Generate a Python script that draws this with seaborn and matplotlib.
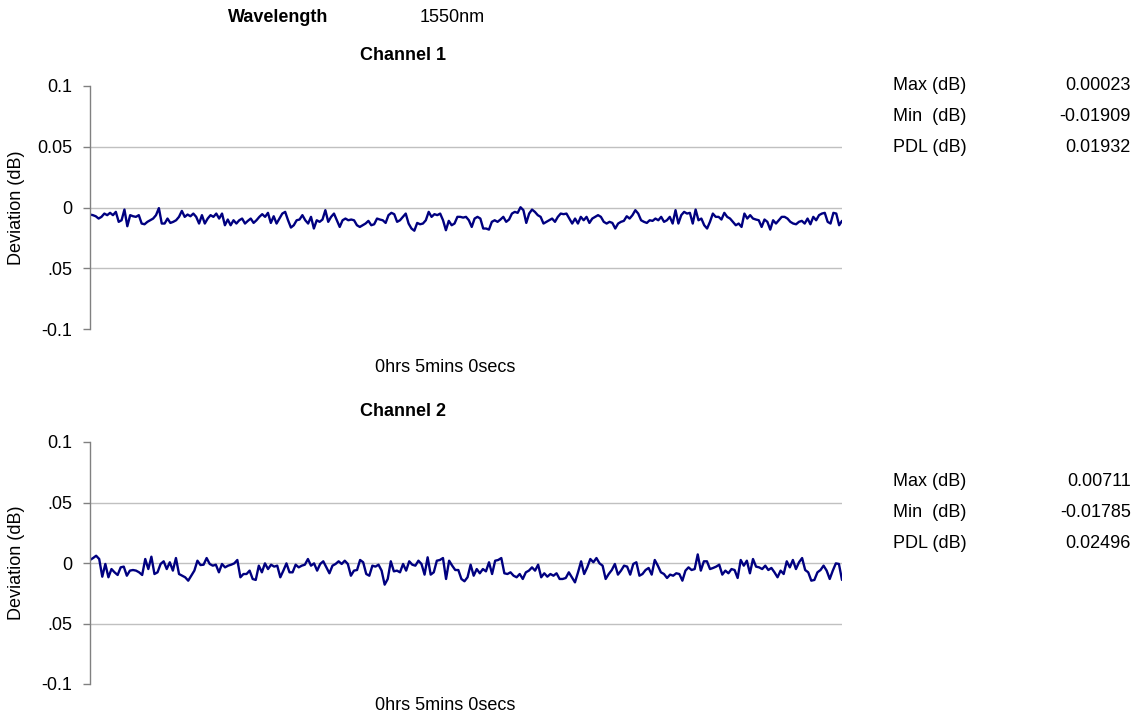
import seaborn as sns
import matplotlib.pyplot as plt
import pandas as pd

# deviation readings, in thousandths of a dB
ch1_dev = [-5.8, -6.3, -7.2, -9.1, -7.7, -5.0, -6.3, -4.4, -6.3, -3.6, -11.8, -10.5, -1.7, -15.4, -6.3, -7.2,
           -7.7, -6.3, -13.2, -13.8, -11.8, -10.5, -9.1, -6.3, -0.5, -13.2, -13.2, -9.1, -12.7, -11.8, -10.5,
           -7.7, -2.8, -7.7, -5.8, -7.2, -5.0, -7.7, -13.2, -6.3, -13.2, -9.1, -6.3, -7.7, -5.0, -9.1, -5.0,
           -14.6, -9.9, -14.6, -10.5, -13.2, -10.5, -9.1, -13.2, -11.0, -9.1, -12.7, -10.5, -7.7, -5.5, -7.7,
           -4.4, -12.7, -7.2, -13.2, -9.1, -5.0, -3.6, -10.5, -16.5, -14.6, -10.5, -9.9, -6.3, -10.5, -13.2,
           -7.7, -17.3, -10.5, -11.8, -9.9, -2.2, -11.8, -7.7, -5.0, -10.5, -16.0, -10.5, -9.1, -10.5,
           -9.9, -10.5, -14.6, -16.0, -14.6, -13.2, -11.0, -14.6, -13.8, -9.1, -9.9, -10.5, -12.7, -6.3, -4.4,
           -5.5, -11.8, -10.5, -7.7, -5.0, -13.2, -17.3, -19.1, -12.7, -13.8, -13.2, -10.5, -3.6, -7.7, -5.5,
           -6.3, -5.0, -10.5, -18.7, -11.0, -14.6, -13.2, -7.7, -7.7, -8.3, -7.7, -10.5, -16.0, -9.1, -7.7,
           -9.1, -17.3, -17.3, -18.2, -11.8, -10.5, -11.8, -9.9, -7.7, -11.8, -9.9, -5.0, -3.6, -4.4, 0.2,
           -2.2, -12.7, -5.0, -1.7, -3.6, -6.3, -7.7, -13.2, -11.8, -10.5, -9.1, -11.8, -7.7, -5.0, -5.5,
           -5.0, -9.1, -13.2, -9.1, -13.2, -7.7, -10.5, -7.7, -12.7, -9.1, -7.7, -6.3,
           -7.7, -11.8, -13.2, -11.8, -12.7, -17.3, -13.2, -11.8, -11.0, -7.2, -9.1, -6.3, -2.2, -5.0, -10.5,
           -11.8, -12.7, -10.5, -11.0, -9.1, -10.5, -7.7, -11.8, -10.5, -7.7, -13.2, -2.2, -13.2, -6.3, -3.6,
           -5.0, -4.4, -13.2, -1.7, -10.5, -9.1, -14.6, -17.3, -11.8, -5.0, -7.7, -7.7, -9.9, -4.4, -7.7,
           -9.1, -11.8, -14.6, -13.2, -16.0, -5.0, -9.1, -6.3, -9.1, -9.9, -10.5, -16.0, -9.9, -11.8, -18.2,
           -10.5, -13.2, -10.5, -7.7, -7.7, -9.1, -11.8, -13.2, -13.8, -11.8, -11.0, -13.2, -9.1, -13.8, -7.7,
           -10.5, -6.3, -5.0, -4.4, -11.8, -13.2, -4.4, -5.0, -14.6, -11.0]

ch2_dev = [2.5, 4.1, 6.0, 3.3, -11.3, -0.8, -11.8, -5.0, -7.7, -9.9, -3.6, -3.0, -10.5, -6.3, -5.8, -6.3,
           -7.7, -9.9, 3.3, -5.0, 5.2, -9.1, -7.7, -0.8, 1.4, -5.0, 0.6, -6.3, 4.1, -9.1, -10.5, -11.8, -14.6,
           -10.5, -6.3, 1.9, -1.7, -1.4, 4.1, -0.8, -2.2, -1.4, -7.7, -0.8, -3.6, -2.2, -1.4, -0.3, 2.5, -11.8,
           -9.1, -9.1, -6.3, -13.2, -14.0, -2.2, -7.7, -0.3, -5.0, -1.4, -3.0, -2.2, -11.8, -6.3, -0.3, -7.7,
           -7.7, -1.4, -3.6, -2.2, -1.4, 3.3, -2.2, -0.3, -6.3, -0.8, 1.4, -3.6, -8.5, -2.2, -0.8, 1.4, -0.8,
           1.9, -0.8,
           -10.5, -6.3, -5.8, 2.5, 0.6, -9.1, -10.5, -2.2, -3.0, -1.4, -6.3, -17.9, -13.2, 1.4, -6.9, -6.3,
           -7.7, -0.8, -6.3, 1.4, -1.4, -2.2, 1.9, -0.8, -9.6, 4.7, -9.6, -7.7, 1.9, 2.5, 4.1, -13.2, 1.9,
           -2.2, -5.8, -5.8, -13.2, -15.1, -11.8, -1.4, -10.5, -5.0, -8.5, -5.0, -6.9, 0.6, -9.1, 1.9, 2.5,
           4.1, -8.5, -9.1, -7.7, -10.5, -11.8, -9.1, -13.2, -7.7, -6.3, -3.6, -6.3, -1.4, -11.8, -8.5, -11.3,
           -9.1, -10.5, -8.5, -13.2, -13.2, -12.4, -7.7, -11.8, -16.0, -7.7, 1.4, -9.1, -3.6, 3.3, 0.6, 4.1,
           -0.3, -2.2, -13.2,
           -9.1, -5.8, -0.8, -9.6, -6.3, -2.2, -3.0, -9.6, -0.8, 0.6, -10.5, -9.1, -5.8, -4.1, -9.6, 2.5,
           -2.2, -7.7, -9.1, -12.4, -9.6, -10.5, -8.5, -9.1, -14.6, -6.3, -3.6, -5.8, -5.0, 7.1, -6.3, 1.4,
           1.4, -5.0, -4.1, -3.0, -1.4, -9.6, -6.3, -8.5, -5.0, -5.8, -12.4, 2.5, -2.2, 1.9, -8.5, 3.3, -3.0,
           -3.6, -5.0, -2.2, -5.8, -4.1, -7.7, -11.8, -6.3, -9.1, 1.4, -3.6, 2.5, -5.0, 0.6, 4.1, -5.8, -7.7,
           -14.6, -14.0, -7.7, -5.8, -2.2, -6.3, -13.2, -6.3, -0.3, -0.8, -14.0]

yticks = [0.1, 0.05, 0, -0.05, -0.1]
ch1_ticklabels = ["0.1", "0.05", "0", ".05", "-0.1"]
ch2_ticklabels = ["0.1", ".05", "0", ".05", "-0.1"]

stat_names = ["Max (dB)", "Min  (dB)", "PDL (dB)"]
ch1_stats = ["0.00023", "-0.01909", "0.01932"]
ch2_stats = ["0.00711", "-0.01785", "0.02496"]

sns.set_style("white")
plt.rcParams['font.family'] = ['Liberation Sans', 'DejaVu Sans']
plt.rcParams['text.color'] = 'black'
plt.rcParams['ytick.color'] = 'black'
FS = 13

W, H = 1147, 719
fig = plt.figure(figsize=(W / 100, H / 100), dpi=100)


def px(x, y):
    return x / W, 1 - y / H


def draw_channel(top, bottom, values, ticklabels, title, stats, stat_top, xlab_gap):
    l, t = px(90, top)
    r, b = px(842, bottom)
    ax = fig.add_axes([l, b, r - l, t - b])
    df = pd.DataFrame({"t": range(len(values)), "dev": [v / 1000 for v in values]})
    sns.lineplot(data=df, x="t", y="dev", ax=ax, color="#000080", linewidth=1.7)
    ax.set_ylim(-0.1, 0.1)
    ax.set_xlim(0, len(values) - 1)
    ax.set_yticks(yticks)
    ax.set_yticklabels(ticklabels, fontsize=FS, color="black")
    ax.set_xticks([])
    ax.set_xlabel("")
    ax.set_ylabel("")
    for s in ["top", "right", "bottom"]:
        ax.spines[s].set_visible(False)
    ax.spines["left"].set_color("#808080")
    ax.spines["left"].set_linewidth(1)
    ax.tick_params(axis="y", length=5, width=1, color="#808080", pad=8, left=True)
    for yv in [0.05, 0, -0.05]:
        ax.axhline(yv, color="#c0c0c0", linewidth=1, zorder=0)
    # titles and labels placed like the original sheet
    fig.text(*px(403, top - 31), title, fontsize=FS, fontweight="bold", ha="center", va="center")
    fig.text(*px(17, (top + bottom) / 2), "Deviation (dB)", fontsize=FS, rotation=90,
             ha="center", va="center")
    fig.text(*px(445, bottom + xlab_gap), "0hrs 5mins 0secs", fontsize=FS, ha="center", va="center")
    for i, (name, val) in enumerate(zip(stat_names, stats)):
        y = stat_top + i * 30.5
        fig.text(*px(893, y), name, fontsize=FS, ha="left", va="center")
        fig.text(*px(1131, y), val, fontsize=FS, ha="right", va="center")


fig.text(*px(278, 17), "Wavelength", fontsize=FS, fontweight="bold", ha="center", va="center")
fig.text(*px(452, 17), "1550nm", fontsize=FS, ha="center", va="center")

draw_channel(86, 329, ch1_dev, ch1_ticklabels, "Channel 1", ch1_stats, 86, 39)
draw_channel(442, 684, ch2_dev, ch2_ticklabels, "Channel 2", ch2_stats, 482, 21)

fig.savefig("out.png", dpi=100)
